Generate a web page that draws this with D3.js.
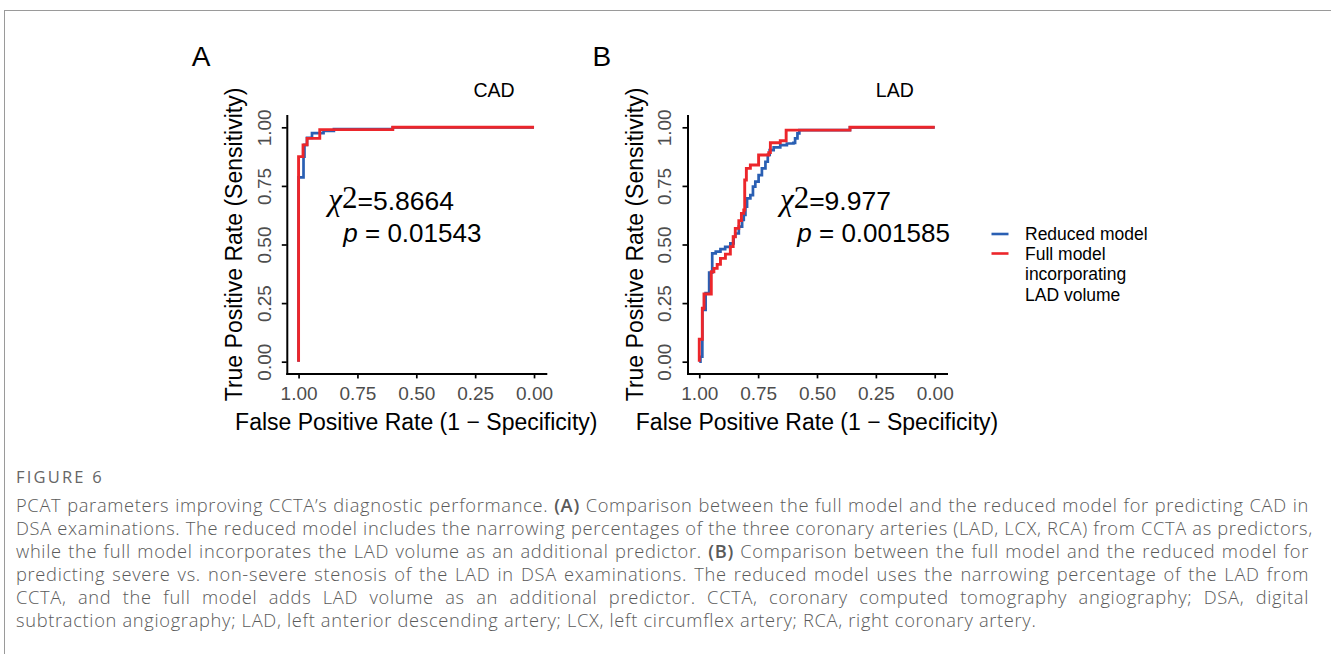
<!DOCTYPE html>
<html>
<head>
<meta charset="utf-8">
<script src="https://cdn.jsdelivr.net/npm/d3@7"></script>
<style>
  body { margin: 0; background: #fff; width: 1331px; height: 654px; overflow: hidden; position: relative; }
  svg { position: absolute; left: 0; top: 0; }
  #figlabel { position: absolute; left: 16px; top: 465px; font-family: "Open Sans"; font-size: 16.5px; color: #666; letter-spacing: 2.2px; }
  #caption { position: absolute; left: 16px; top: 493px; width: 1293px; font-family: "Open Sans"; font-weight: 300; font-size: 18.3px; letter-spacing: 0.68px; line-height: 23px; color: #5a5a5a; }
  #caption div { text-align: justify; text-align-last: justify; white-space: nowrap; }
  #caption div:last-child { text-align-last: left; }
  #caption b { font-weight: 600; }
</style>
</head>
<body>
<svg id="fig" width="1331" height="654"></svg>
<div id="figlabel">FIGURE 6</div>
<div id="caption"></div>
<script>
// ROC points (specificity, sensitivity), drawn as steps
const cadReducedSpec = [1, 1, 0.979, 0.975, 0.964, 0.943, 0.894, 0.85, 0.6, 0]
const cadReducedSens = [0, 0.786, 0.875, 0.925, 0.955, 0.975, 0.985, 0.992, 1, 1]
const cadFullSpec = [1, 1, 0.981, 0.964, 0.91, 0.6, 0]
const cadFullSens = [0, 0.875, 0.925, 0.953, 0.99, 1, 1]

const ladReducedSpec = [1, 0.995, 0.987, 0.973, 0.958, 0.945, 0.93, 0.91, 0.89, 0.868, 0.854, 0.847, 0.832, 0.818, 0.811, 0.804, 0.797, 0.783, 0.772, 0.762, 0.748, 0.734, 0.719, 0.709, 0.701, 0.684, 0.656, 0.628, 0.6, 0.593, 0.583, 0.575, 0.36, 0]
const ladReducedSens = [0, 0.021, 0.221, 0.293, 0.38, 0.462, 0.47, 0.48, 0.49, 0.505, 0.533, 0.547, 0.576, 0.605, 0.626, 0.662, 0.697, 0.711, 0.747, 0.768, 0.796, 0.825, 0.853, 0.882, 0.903, 0.914, 0.924, 0.931, 0.934, 0.953, 0.974, 0.988, 1, 1]
const ladFullSpec = [1, 1, 0.987, 0.98, 0.949, 0.938, 0.924, 0.91, 0.889, 0.868, 0.856, 0.847, 0.832, 0.821, 0.811, 0.807, 0.8, 0.783, 0.748, 0.705, 0.698, 0.656, 0.631, 0.36, 0]
const ladFullSens = [0, 0.0955, 0.228, 0.289, 0.384, 0.398, 0.415, 0.441, 0.459, 0.491, 0.533, 0.569, 0.602, 0.633, 0.647, 0.775, 0.825, 0.839, 0.882, 0.892, 0.934, 0.943, 0.988, 1, 1]

const tickValues = [0, 0.25, 0.5, 0.75, 1]
const seriesNames = ["Reduced model", "Full model", "incorporating", "LAD volume"]
const seriesColors = ["#2a5fb3", "#ec262b"]

const captionLines = [
  "PCAT parameters improving CCTA’s diagnostic performance. (A) Comparison between the full model and the reduced model for predicting CAD in",
  "DSA examinations. The reduced model includes the narrowing percentages of the three coronary arteries (LAD, LCX, RCA) from CCTA as predictors,",
  "while the full model incorporates the LAD volume as an additional predictor. (B) Comparison between the full model and the reduced model for",
  "predicting severe vs. non-severe stenosis of the LAD in DSA examinations. The reduced model uses the narrowing percentage of the LAD from",
  "CCTA, and the full model adds LAD volume as an additional predictor. CCTA, coronary computed tomography angiography; DSA, digital",
  "subtraction angiography; LAD, left anterior descending artery; LCX, left circumflex artery; RCA, right coronary artery."
]

const panels = [
  { label: "A", title: "CAD", left: 286.8, chi: "=5.8664", p: " = 0.01543", chiX: 41.5, pX: 56.5,
    reduced: d3.zip(cadReducedSpec, cadReducedSens), full: d3.zip(cadFullSpec, cadFullSens) },
  { label: "B", title: "LAD", left: 687.5, chi: "=9.977", p: " = 0.001585", chiX: 92.5, pX: 109.8,
    reduced: d3.zip(ladReducedSpec, ladReducedSens), full: d3.zip(ladFullSpec, ladFullSens) }
]

const sans = "Liberation Sans, Arial, sans-serif"
const serif = "Liberation Serif, Times New Roman, serif"
const svg = d3.select("#fig")
const pw = 259, plotTop = 115.6, plotBottom = 373.4

// frame of the figure
svg.append("line").attr("x1", 4).attr("x2", 1331).attr("y1", 10.5).attr("y2", 10.5).attr("stroke", "#9a9a9a")
svg.append("line").attr("x1", 4.5).attr("x2", 4.5).attr("y1", 10).attr("y2", 654).attr("stroke", "#9a9a9a")

panels.forEach(pn => {
  const g = svg.append("g")
  const x = d3.scaleLinear().domain([1.05, -0.05]).range([pn.left, pn.left + pw])
  const y = d3.scaleLinear().domain([-0.05, 1.05]).range([plotBottom, plotTop])

  const yAxis = g.append("g").attr("transform", "translate(" + pn.left + ",0)")
    .call(d3.axisLeft(y).tickValues(tickValues).tickFormat(d3.format(".2f")).tickSize(5).tickSizeOuter(0))
  yAxis.selectAll("text").attr("x", null).attr("dy", null).attr("text-anchor", "middle")
    .attr("transform", "translate(-16.3,0) rotate(-90)")
  const xAxis = g.append("g").attr("transform", "translate(0," + plotBottom + ")")
    .call(d3.axisBottom(x).tickValues(tickValues).tickFormat(d3.format(".2f")).tickSize(5).tickSizeOuter(0))
  xAxis.selectAll("text").attr("y", 27).attr("dy", null)
  g.selectAll(".domain").attr("stroke", "#000").attr("stroke-width", 2).attr("stroke-linecap", "square")
  g.selectAll(".tick line").attr("stroke", "#000").attr("stroke-width", 1.7)
  g.selectAll(".tick text").attr("fill", "#4d4d4d").attr("font-size", 19).attr("font-family", sans)

  const line = d3.line().curve(d3.curveStepAfter).x(d => x(d[0])).y(d => y(d[1]))
  g.append("path").attr("d", line(pn.reduced)).attr("fill", "none").attr("stroke", seriesColors[0]).attr("stroke-width", 2.7)
  g.append("path").attr("d", line(pn.full)).attr("fill", "none").attr("stroke", seriesColors[1]).attr("stroke-width", 2.9)

  // titles
  g.append("text").attr("x", pn.left + 207.3).attr("y", 97.3).attr("text-anchor", "middle")
    .attr("font-family", sans).attr("font-size", 19.5).text(pn.title)
  g.append("text").attr("x", pn.left - 95).attr("y", 66).attr("font-family", sans).attr("font-size", 28).text(pn.label)
  g.append("text").attr("transform", "translate(" + (pn.left - 44.5) + "," + ((plotTop + plotBottom) / 2) + ") rotate(-90)")
    .attr("text-anchor", "middle").attr("font-family", sans).attr("font-size", 23).text("True Positive Rate (Sensitivity)")
  g.append("text").attr("x", pn.left + pw / 2).attr("y", 429.5).attr("text-anchor", "middle")
    .attr("font-family", sans).attr("font-size", 23).text("False Positive Rate (1 \u2212 Specificity)")

  // test statistic
  const t1 = g.append("text").attr("x", pn.left + pn.chiX).attr("y", 210).attr("font-family", sans).attr("font-size", 26.5)
  t1.append("tspan").attr("font-family", serif).attr("font-style", "italic").attr("font-size", 31).text("\u03c7")
  t1.append("tspan").attr("font-family", serif).attr("font-size", 31).attr("dy", -2).text("2")
  t1.append("tspan").attr("dy", 2).text(pn.chi)
  const t2 = g.append("text").attr("x", pn.left + pn.pX).attr("y", 241.7).attr("font-family", sans).attr("font-size", 26)
  t2.append("tspan").attr("font-style", "italic").text("p")
  t2.append("tspan").text(pn.p)
})

// legend
const legend = svg.append("g").attr("font-family", sans).attr("font-size", 17.5)
const keyY = [234, 253.5]
legend.selectAll("line").data(seriesColors).join("line")
  .attr("x1", 991.5).attr("x2", 1008.5).attr("y1", (d, i) => keyY[i]).attr("y2", (d, i) => keyY[i])
  .attr("stroke", d => d).attr("stroke-width", 2.6)
const textY = [240, 259.5, 280.3, 301]
legend.selectAll("text").data(seriesNames).join("text")
  .attr("x", 1025).attr("y", (d, i) => textY[i]).text(d => d)

d3.select("#caption").selectAll("div").data(captionLines).join("div")
  .html(d => d.replace("(A)", "<b>(A)</b>").replace("(B)", "<b>(B)</b>"))
</script>
</body>
</html>
